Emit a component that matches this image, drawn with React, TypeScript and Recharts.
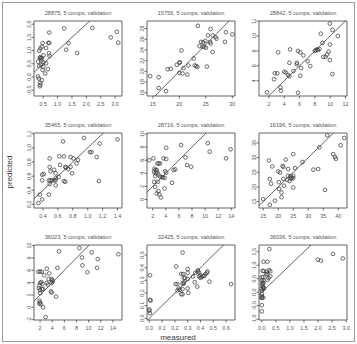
import React from 'react';
import { ScatterChart, Scatter, XAxis, YAxis, ReferenceLine, ReferenceArea } from 'recharts';

// measured, predicted pairs per sample set
const s28875: [number, number][] = [
  [0.71, 1.68], [1.23, 1.84], [2.21, 1.86], [3.06, 1.71], [2.85, 1.5], [3.11, 1.3], [1.38, 1.28], [1.3, 1.03],
  [1.68, 0.91], [0.68, 1.29], [0.71, 1.29], [0.48, 1.28], [0.45, 1.15], [0.36, 1.0], [0.4, 1.08], [0.6, 1.1],
  [0.7, 0.9], [0.72, 0.8], [0.51, 0.82], [0.32, 0.58], [0.4, 0.75], [0.42, 0.7], [0.45, 0.72], [0.51, 0.55],
  [0.6, 0.52], [0.42, 0.46], [0.5, 0.38], [0.66, 0.3], [0.48, 0.27], [0.57, 0.13], [0.32, 0.02], [0.35, -0.06],
  [0.45, -0.12], [0.4, -0.22], [0.4, -0.3], [0.38, -0.35], [0.38, 0.72], [0.44, 0.62], [0.36, 0.42],
];
const s15756: [number, number][] = [
  [23.5, 28.5], [25.9, 27.9], [28.8, 27.3], [30.0, 26.9], [25.4, 26.7], [26.3, 26.7], [27.0, 26.1], [26.8, 26.4],
  [24.9, 25.7], [24.1, 25.5], [24.5, 25.4], [25.8, 25.5], [28.6, 25.5], [23.8, 24.7], [24.4, 24.6], [24.7, 24.6],
  [25.0, 24.4], [25.9, 25.2], [26.3, 23.6], [20.4, 23.9], [22.7, 22.4], [22.9, 21.1], [23.2, 21.0], [23.4, 20.8],
  [25.2, 20.9], [20.0, 21.6], [20.1, 21.7], [19.5, 21.2], [21.7, 21.1], [20.8, 20.6], [17.8, 20.4], [18.4, 20.5],
  [20.0, 19.7], [20.6, 19.6], [21.5, 19.4], [14.5, 19.1], [16.1, 18.9], [16.1, 16.9], [17.5, 16.3],
];
const s28842: [number, number][] = [
  [9.96, 11.65], [8.76, 10.3], [10.3, 10.8], [11.0, 10.0], [8.99, 9.07], [9.96, 8.85], [4.76, 8.2], [3.2, 7.8],
  [5.8, 8.0], [6.1, 7.8], [8.1, 8.1], [8.3, 8.2], [8.4, 8.1], [8.0, 8.0], [8.6, 8.25], [6.5, 7.4], [9.8, 7.9],
  [9.6, 7.5], [9.4, 7.2], [9.1, 7.2], [9.96, 6.76], [7.07, 6.6], [4.67, 6.4], [5.65, 6.4], [5.65, 6.2], [7.4, 5.96],
  [6.2, 5.7], [5.2, 5.3], [4.0, 5.2], [4.2, 5.1], [2.76, 5.0], [3.1, 5.0], [4.5, 4.76], [4.67, 4.6], [6.1, 4.67],
  [10.3, 4.9], [2.67, 4.2], [3.5, 3.1], [3.56, 2.67], [1.73, 2.45], [5.8, 2.4],
];
const s35465: [number, number][] = [
  [1.4, 1.12], [0.95, 1.14], [0.67, 1.09], [1.16, 1.06], [1.03, 0.94], [1.05, 0.94], [1.12, 0.87], [0.49, 0.85],
  [0.62, 0.88], [0.68, 0.88], [0.77, 0.87], [0.81, 0.85], [0.87, 0.83], [0.85, 0.78], [0.63, 0.76], [0.7, 0.73],
  [0.71, 0.72], [0.74, 0.7], [0.77, 0.73], [0.49, 0.73], [0.5, 0.67], [0.55, 0.69], [0.39, 0.62], [0.41, 0.63],
  [0.57, 0.64], [0.79, 0.64], [0.57, 0.57], [0.55, 0.54], [0.57, 0.54], [0.48, 0.54], [0.5, 0.54], [0.52, 0.54],
  [0.39, 0.54], [0.61, 0.59], [0.68, 0.53], [0.7, 0.52], [1.15, 0.53], [0.57, 0.47], [0.49, 0.49], [0.48, 0.34],
  [0.36, 0.34], [0.39, 0.27], [0.34, 0.22],
];
const s28716: [number, number][] = [
  [6.33, 8.3], [10.4, 8.6], [10.7, 7.3], [13.9, 7.66], [4.06, 7.9], [13.2, 6.28], [7.0, 6.43], [2.1, 6.28],
  [1.47, 6.0], [3.64, 6.28], [4.06, 6.17], [2.7, 5.5], [2.9, 5.5], [3.1, 5.5], [7.25, 5.25], [7.87, 5.0],
  [5.2, 4.5], [5.45, 4.6], [2.25, 4.7], [2.6, 4.5], [2.4, 4.5], [2.7, 4.1], [2.2, 4.2], [2.45, 4.0], [3.9, 4.3],
  [4.06, 4.1], [2.87, 3.8], [3.1, 3.5], [3.4, 3.4], [2.36, 3.57], [3.55, 3.4], [3.8, 3.3], [2.77, 2.7], [2.2, 2.7],
  [4.94, 2.55], [2.36, 1.93], [3.8, 1.68], [2.87, 1.27], [2.6, 0.92], [3.0, 0.77], [3.24, 0.3],
];
const s16196: [number, number][] = [
  [36.3, 37.6], [42.0, 36.7], [40.8, 34.2], [33.7, 33.5], [38.3, 31.2], [38.9, 30.2], [39.2, 29.6], [25.0, 31.2],
  [16.9, 29.0], [22.5, 29.3], [28.1, 28.5], [18.0, 27.0], [21.5, 27.2], [21.7, 26.8], [23.3, 26.1], [25.6, 26.4],
  [31.7, 25.9], [33.3, 26.1], [20.0, 25.3], [20.6, 24.9], [23.2, 23.8], [24.0, 23.6], [25.0, 23.8], [24.5, 23.2],
  [17.2, 22.7], [21.7, 22.7], [20.2, 21.6], [23.0, 22.4], [23.8, 22.0], [24.3, 22.8], [25.0, 23.0], [17.6, 21.1],
  [21.9, 20.4], [25.0, 19.8], [20.3, 19.3], [35.6, 19.0], [21.1, 18.1], [21.1, 16.5], [18.9, 15.3], [15.0, 15.8],
  [17.2, 13.9],
];
const s36023: [number, number][] = [
  [5.13, 9.07], [8.49, 9.6], [10.5, 8.9], [14.9, 8.6], [8.9, 8.08], [11.5, 7.8], [8.98, 6.8], [11.4, 6.4],
  [9.8, 5.7], [3.1, 6.26], [4.86, 6.4], [1.7, 5.77], [2.0, 5.77], [2.3, 5.77], [3.5, 5.5], [2.7, 5.2], [3.4, 4.6],
  [3.9, 4.6], [4.0, 4.4], [4.1, 4.2], [2.2, 4.1], [2.0, 3.95], [2.4, 3.8], [1.9, 3.55], [3.1, 3.95], [3.3, 3.67],
  [3.9, 3.95], [2.5, 2.96], [2.3, 2.96], [1.8, 3.1], [2.0, 2.8], [3.8, 2.56], [3.9, 2.4], [4.64, 1.74], [2.0, 2.3],
  [1.9, 1.07], [2.0, 0.8], [1.9, 0.6], [2.1, 0.5], [2.5, 0.0], [2.9, -1.57],
];
const s32425: [number, number][] = [
  [0.26, 0.52], [0.21, 0.41], [0.3, 0.39], [0.25, 0.35], [0.265, 0.35], [0.3, 0.36], [0.006, 0.34], [0.27, 0.32],
  [0.28, 0.32], [0.3, 0.31], [0.34, 0.33], [0.36, 0.36], [0.38, 0.37], [0.39, 0.36], [0.38, 0.38], [0.4, 0.34],
  [0.42, 0.335], [0.43, 0.335], [0.44, 0.35], [0.45, 0.36], [0.455, 0.37], [0.39, 0.33], [0.4, 0.32], [0.41, 0.325],
  [0.355, 0.285], [0.27, 0.285], [0.26, 0.275], [0.27, 0.275], [0.205, 0.27], [0.22, 0.27], [0.47, 0.29],
  [0.64, 0.27], [0.375, 0.25], [0.23, 0.235], [0.24, 0.225], [0.26, 0.23], [0.3, 0.235], [0.22, 0.22],
  [0.305, 0.2], [0.25, 0.19], [0.26, 0.19], [0.006, 0.146], [0.01, 0.14], [0.0, 0.07], [0.0, 0.06], [0.005, 0.04],
];
const s36036: [number, number][] = [
  [0.27, 1.6], [2.53, 1.42], [2.88, 1.25], [1.99, 1.21], [2.1, 1.17], [0.06, 1.13], [0.2, 1.13], [0.03, 0.79],
  [0.07, 0.79], [0.18, 0.75], [0.25, 0.82], [0.3, 0.78], [0.2, 0.67], [0.16, 0.67], [0.0, 0.56], [0.05, 0.56],
  [0.24, 0.53], [0.2, 0.46], [0.3, 0.59], [0.0, 0.44], [0.02, 0.36], [0.03, 0.3], [0.0, 0.25], [0.06, 0.44],
  [0.06, 0.34], [0.05, 0.19], [0.07, 0.16], [0.06, 0.12], [-0.01, 0.13], [0.0, 0.06], [0.0, -0.06], [0.0, -0.15],
  [0.01, -0.2], [-0.01, -0.21], [0.05, -0.2], [0.0, -0.48], [0.0, -0.71],
];

// tick labels
const tx28875 = [0.5, 1.0, 1.5, 2.0, 2.5, 3.0];
const ty28875 = [-0.5, 0.0, 0.5, 1.0, 1.5, 2.0];
const tx15756 = [15, 20, 25, 30];
const ty15756 = [16, 18, 20, 22, 24, 26, 28];
const tx28842 = [2, 4, 6, 8, 10, 12];
const ty28842 = [4, 6, 8, 10, 12];
const tx35465 = [0.4, 0.6, 0.8, 1.0, 1.2, 1.4];
const ty35465 = [0.2, 0.4, 0.6, 0.8, 1.0, 1.2];
const tx28716 = [2, 4, 6, 8, 10, 12, 14];
const ty28716 = [0, 2, 4, 6, 8, 10];
const tx16196 = [15, 20, 25, 30, 35, 40];
const ty16196 = [15, 20, 25, 30, 35];
const tx36023 = [2, 4, 6, 8, 10, 12, 14];
const ty36023 = [-2, 0, 2, 4, 6, 8, 10];
const tx32425 = [0.0, 0.1, 0.2, 0.3, 0.4, 0.5, 0.6];
const ty32425 = [0.0, 0.1, 0.2, 0.3, 0.4, 0.5];
const tx36036 = [0.0, 0.5, 1.0, 1.5, 2.0, 2.5, 3.0];
const ty36036 = [-1.0, -0.5, 0.0, 0.5, 1.0, 1.5];

type Panel = {
  id: string;
  pts: [number, number][];
  xd: [number, number];
  yd: [number, number];
  xt: number[];
  yt: number[];
  dec: number;
};

const panels: Panel[] = [
  { id: '28875', pts: s28875, xd: [0.18, 3.24], yd: [-0.72, 2.12], xt: tx28875, yt: ty28875, dec: 1 },
  { id: '15756', pts: s15756, xd: [13.9, 30.5], yd: [15.4, 29.4], xt: tx15756, yt: ty15756, dec: 0 },
  { id: '28842', pts: s28842, xd: [0.7, 12.2], yd: [1.96, 12.0], xt: tx28842, yt: ty28842, dec: 0 },
  { id: '35465', pts: s35465, xd: [0.28, 1.46], yd: [0.15, 1.21], xt: tx35465, yt: ty35465, dec: 1 },
  { id: '28716', pts: s28716, xd: [1.12, 14.57], yd: [-1.3, 10.15], xt: tx28716, yt: ty28716, dec: 0 },
  { id: '16196', pts: s16196, xd: [13.6, 42.9], yd: [12.8, 38.4], xt: tx16196, yt: ty16196, dec: 0 },
  { id: '36023', pts: s36023, xd: [1.0, 15.5], yd: [-2.05, 10.1], xt: tx36023, yt: ty36023, dec: 0 },
  { id: '32425', pts: s32425, xd: [-0.018, 0.67], yd: [-0.014, 0.58], xt: tx32425, yt: ty32425, dec: 1 },
  { id: '36036', pts: s36036, xd: [-0.1, 3.03], yd: [-1.03, 1.75], xt: tx36036, yt: ty36036, dec: 1 },
];

const FONT = '"Liberation Sans", Arial, Helvetica, sans-serif';
const INK = '#3c3c3c';
const TXT = '#555';
const BOX_W = 88;
const BOX_H = 75;
const COL_X = [34, 147, 259];
const ROW_Y = [21, 133, 245];
const YW = 30; // y axis width
const XH = 20; // x axis height
const MT = 2;
const MR = 3;

const Dot = (props: any) => {
  const { cx, cy } = props;
  if (cx == null || cy == null) return null;
  return <circle cx={cx} cy={cy} r={1.85} fill="none" stroke={INK} strokeWidth={0.75} />;
};

const fmt = (v: number, dec: number) => v.toFixed(dec).replace('-0.0', '0.0').replace(/^-0$/, '0');

const SubPlot = ({ p }: { p: Panel }) => {
  const data = p.pts.map(([m, pr]) => ({ x: m, y: pr }));
  const lo = Math.max(p.xd[0], p.yd[0]);
  const hi = Math.min(p.xd[1], p.yd[1]);
  const XTick = (t: any) => (
    <text x={t.x} y={MT + BOX_H + 9.5} textAnchor="middle" fontSize={5.4} fill={TXT} fontFamily={FONT}>
      {fmt(t.payload.value, p.dec)}
    </text>
  );
  const YTick = (t: any) => (
    <text
      x={YW - 3.2}
      y={t.y}
      textAnchor="middle"
      fontSize={5.4}
      fill={TXT}
      fontFamily={FONT}
      transform={`rotate(-90, ${YW - 3.2}, ${t.y})`}
    >
      {fmt(t.payload.value, p.dec)}
    </text>
  );
  return (
    <ScatterChart width={YW + BOX_W + MR} height={MT + BOX_H + XH} margin={{ top: MT, right: MR, bottom: 0, left: 0 }}>
      <XAxis
        type="number"
        dataKey="x"
        domain={p.xd}
        ticks={p.xt}
        interval={0}
        allowDataOverflow
        axisLine={false}
        tickLine={{ stroke: INK, strokeWidth: 0.75 }}
        tickSize={2.5}
        height={XH}
        tick={XTick}
      />
      <YAxis
        type="number"
        dataKey="y"
        domain={p.yd}
        ticks={p.yt}
        interval={0}
        allowDataOverflow
        axisLine={false}
        tickLine={{ stroke: INK, strokeWidth: 0.75 }}
        tickSize={2.5}
        width={YW}
        tick={YTick}
      />
      <ReferenceArea
        x1={p.xd[0]}
        x2={p.xd[1]}
        y1={p.yd[0]}
        y2={p.yd[1]}
        fill="none"
        fillOpacity={0}
        stroke={INK}
        strokeWidth={0.8}
        ifOverflow="visible"
      />
      <Scatter data={data} shape={Dot} isAnimationActive={false} />
      <ReferenceLine
        segment={[{ x: lo, y: lo }, { x: hi, y: hi }]}
        stroke={INK}
        strokeWidth={0.8}
        ifOverflow="visible"
      />
    </ScatterChart>
  );
};

export default function App() {
  return (
    <div style={{ position: 'absolute', left: 0, top: 0, width: 357, height: 344, background: '#fff' }}>
      {panels.map((p, i) => {
        const c = i % 3;
        const r = Math.floor(i / 3);
        return (
          <div key={p.id} style={{ position: 'absolute', left: COL_X[c] - YW, top: ROW_Y[r] - MT }}>
            <SubPlot p={p} />
          </div>
        );
      })}
      <svg width={357} height={344} style={{ position: 'absolute', left: 0, top: 0, pointerEvents: 'none' }}>
        <rect x={2.5} y={2.5} width={352} height={339} fill="none" stroke="#9a9a9a" strokeWidth={1} />
        {panels.map((p, i) => {
          const c = i % 3;
          const r = Math.floor(i / 3);
          return (
            <text
              key={p.id}
              x={COL_X[c] + BOX_W / 2}
              y={ROW_Y[r] - 6}
              textAnchor="middle"
              fontSize={5.6}
              fill={TXT}
              fontFamily={FONT}
            >
              {`${p.id}, 5 comps, validation`}
            </text>
          );
        })}
        <text x={178} y={339.5} textAnchor="middle" fontSize={8} fill="#333" fontFamily={FONT}>
          measured
        </text>
        <text
          x={12}
          y={172}
          textAnchor="middle"
          fontSize={8}
          fill="#333"
          fontFamily={FONT}
          transform="rotate(-90, 12, 172)"
        >
          predicted
        </text>
      </svg>
    </div>
  );
}
